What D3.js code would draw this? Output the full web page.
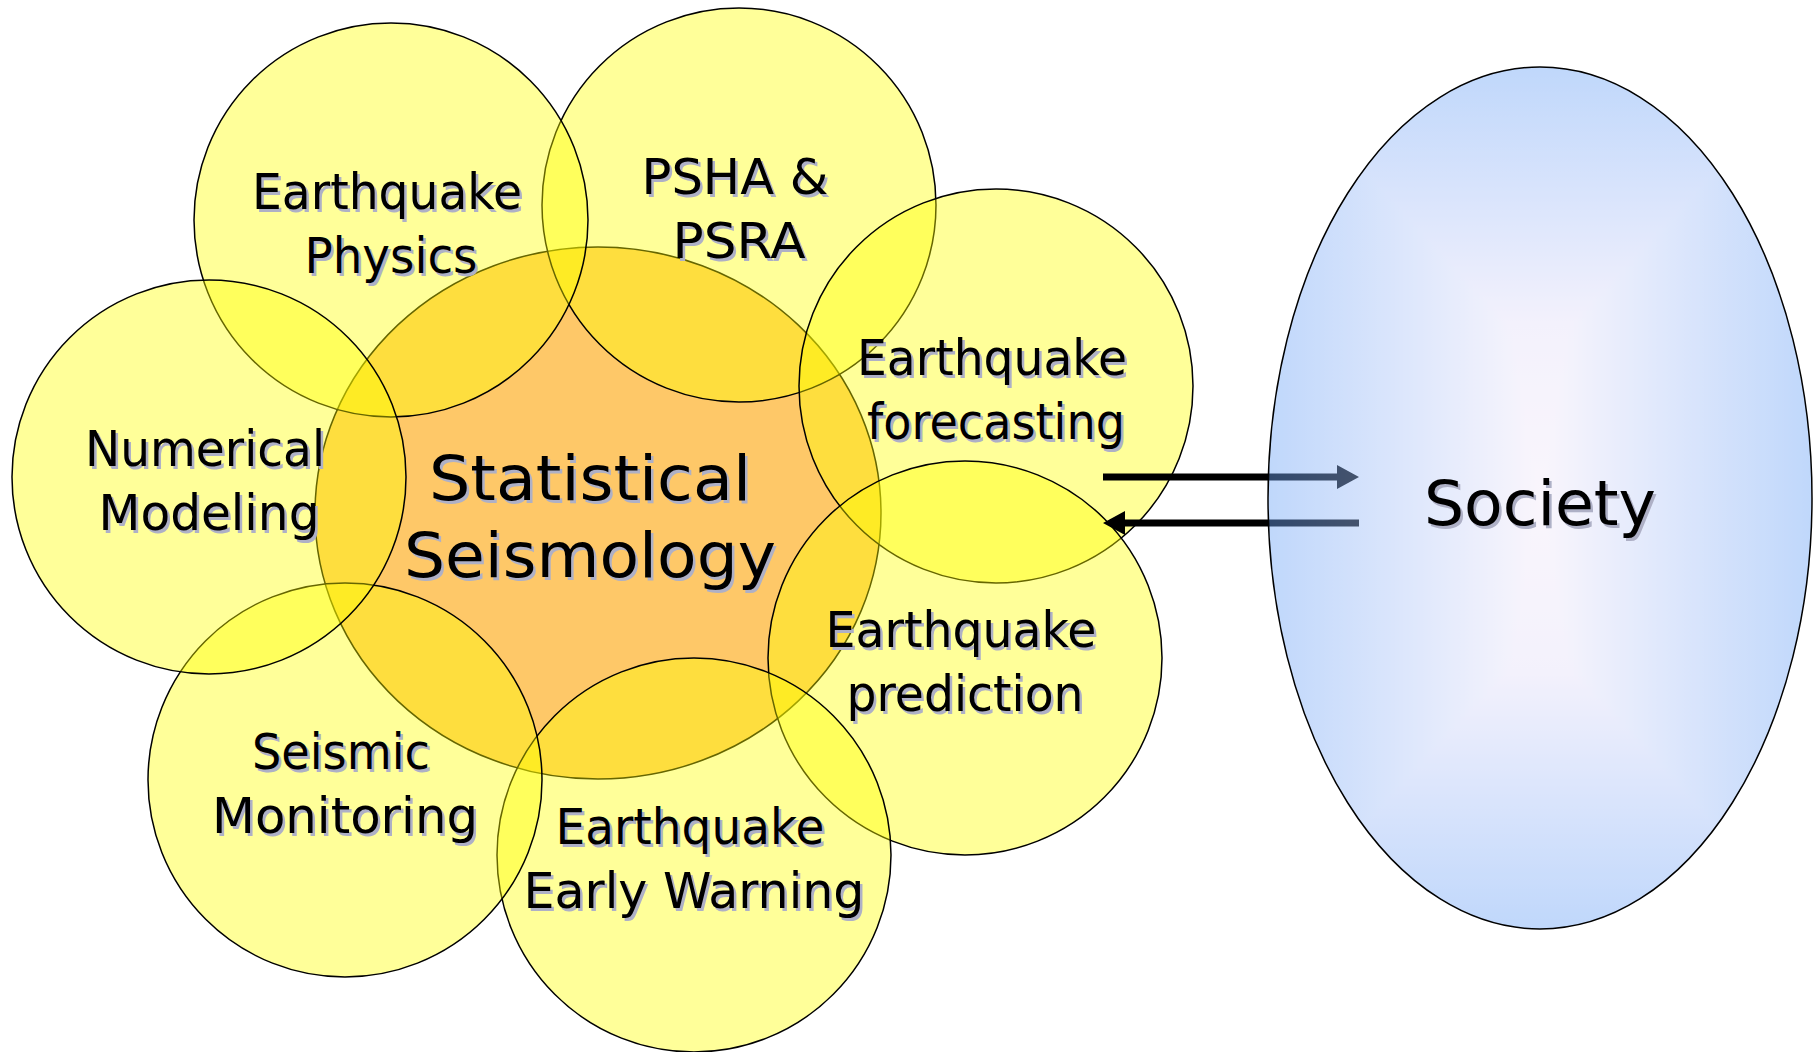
<!DOCTYPE html>
<html>
<head>
<meta charset="utf-8">
<script src="https://cdn.jsdelivr.net/npm/d3@7"></script>
<style>
  html, body { margin: 0; padding: 0; background: #ffffff; }
  svg { display: block; }
</style>
</head>
<body>
<svg id="chart" width="1817" height="1052"></svg>
<script>
// ---- content -------------------------------------------------------------
// Central discipline
const hubLines = ["Statistical", "Seismology"];

// Research areas around the centre, listed from bottom layer to top layer
const areaLines = [
  ["PSHA &", "PSRA"],
  ["Earthquake", "Physics"],
  ["Earthquake", "forecasting"],
  ["Earthquake", "prediction"],
  ["Earthquake", "Early Warning"],
  ["Seismic", "Monitoring"],
  ["Numerical", "Modeling"]
];

// Partner on the other side of the exchange
const partnerName = "Society";

// The two arrows: knowledge out to society, feedback back in
const exchangeDirections = ["out", "in"];

// ---- layout --------------------------------------------------------------
const W = 1817, H = 1052;
const hubShape = { cx: 598, cy: 513, rx: 283, ry: 266 };
const areaRadius = 197;
const areaCentres = [
  [739, 205], [391, 220], [996, 386], [965, 658],
  [694, 855], [345, 780], [209, 477]
];
const areaLineWidths = [
  [187, 133], [270, 173], [270, 258], [271, 237],
  [269, 341], [178, 266], [240, 221]
];
const hubLineWidths = [322, 372];
const partnerShape = { cx: 1540, cy: 498, rx: 272, ry: 431 };
const partnerWidth = 232;
const arrowSpan = { left: 1103, right: 1359, rows: [477, 523], shaft: 7, headLen: 22, headHalf: 12 };

const FONT = "'DejaVu Sans', Verdana, sans-serif";
const shadowColor = "#aeb0c6";

const svg = d3.select("#chart").attr("viewBox", [0, 0, W, H]);
const defs = svg.append("defs");

// Rectangular "from the centre" shading of the partner ellipse: one gradient
// across, one down, combined with a darken blend so the farther one wins.
const edgeBlue = "#70a6f8", nearPale = "#e6e1fa", paleCore = "#f4ebfa";
function addGradient(id, horizontal, stops) {
  const g = defs.append("linearGradient").attr("id", id)
    .attr("x1", 0).attr("y1", 0)
    .attr("x2", horizontal ? 1 : 0).attr("y2", horizontal ? 0 : 1);
  stops.forEach(([o, c]) => g.append("stop").attr("offset", o).attr("stop-color", c));
}
addGradient("partnerAcross", true,  [[0, edgeBlue], [0.5, paleCore], [1, edgeBlue]]);
addGradient("partnerDown",   false, [[0, edgeBlue], [0.3, nearPale], [0.5, paleCore], [0.7, nearPale], [1, edgeBlue]]);

// ---- hub -----------------------------------------------------------------
svg.append("ellipse")
  .attr("cx", hubShape.cx).attr("cy", hubShape.cy)
  .attr("rx", hubShape.rx).attr("ry", hubShape.ry)
  .attr("fill", "#fec868")
  .attr("stroke", "#000").attr("stroke-width", 1.5);

// ---- research areas (translucent yellow discs) --------------------------
const areas = areaLines.map((lines, i) => ({
  lines,
  cx: areaCentres[i][0],
  cy: areaCentres[i][1],
  widths: areaLineWidths[i]
}));

svg.append("g").selectAll("circle")
  .data(areas)
  .join("circle")
  .attr("cx", d => d.cx).attr("cy", d => d.cy)
  .attr("r", areaRadius)
  .attr("fill", "#ffff00").attr("fill-opacity", 0.4)
  .attr("stroke", "#000").attr("stroke-width", 1.5);

// ---- exchange arrows -----------------------------------------------------
const line = d3.line();
function arrowPoints(dir, y) {
  const { left, right, shaft, headLen, headHalf } = arrowSpan;
  const h = shaft / 2;
  if (dir === "out") {
    const b = right - headLen;
    return [[left, y - h], [b, y - h], [b, y - headHalf], [right, y],
            [b, y + headHalf], [b, y + h], [left, y + h]];
  }
  const b = left + headLen;
  return [[right, y - h], [b, y - h], [b, y - headHalf], [left, y],
          [b, y + headHalf], [b, y + h], [right, y + h]];
}
svg.append("g").selectAll("path")
  .data(exchangeDirections)
  .join("path")
  .attr("d", (d, i) => line(arrowPoints(d, arrowSpan.rows[i])) + "Z")
  .attr("fill", "#000");

// ---- partner ellipse (translucent, so the arrow ends show through) ------
const partner = svg.append("g")
  .attr("opacity", 0.44)
  .style("isolation", "isolate");
partner.append("ellipse")
  .attr("cx", partnerShape.cx).attr("cy", partnerShape.cy)
  .attr("rx", partnerShape.rx).attr("ry", partnerShape.ry)
  .attr("fill", "url(#partnerAcross)");
partner.append("ellipse")
  .attr("cx", partnerShape.cx).attr("cy", partnerShape.cy)
  .attr("rx", partnerShape.rx).attr("ry", partnerShape.ry)
  .attr("fill", "url(#partnerDown)")
  .style("mix-blend-mode", "darken");
svg.append("ellipse")
  .attr("cx", partnerShape.cx).attr("cy", partnerShape.cy)
  .attr("rx", partnerShape.rx).attr("ry", partnerShape.ry)
  .attr("fill", "none")
  .attr("stroke", "#000").attr("stroke-width", 1.5);

// ---- labels with soft drop shadow ---------------------------------------
function label(g, text, x, y, size, width) {
  [[2.5, 2.5, shadowColor], [0, 0, "#000"]].forEach(([dx, dy, col]) => {
    g.append("text")
      .attr("x", x + dx).attr("y", y + dy)
      .attr("text-anchor", "middle")
      .attr("font-family", FONT)
      .attr("font-size", size)
      .attr("textLength", width)
      .attr("lengthAdjust", "spacingAndGlyphs")
      .attr("fill", col)
      .text(text);
  });
}

const labels = svg.append("g");
areas.forEach(d => {
  label(labels, d.lines[0], d.cx - 4, d.cy - 11, 49, d.widths[0]);
  label(labels, d.lines[1], d.cx,     d.cy + 53, 49, d.widths[1]);
});
hubLines.forEach((t, i) =>
  label(labels, t, hubShape.cx - 8, hubShape.cy + (i === 0 ? -13 : 64), 62, hubLineWidths[i]));
label(labels, partnerName, partnerShape.cx, partnerShape.cy + 27, 62, partnerWidth);
</script>
</body>
</html>
